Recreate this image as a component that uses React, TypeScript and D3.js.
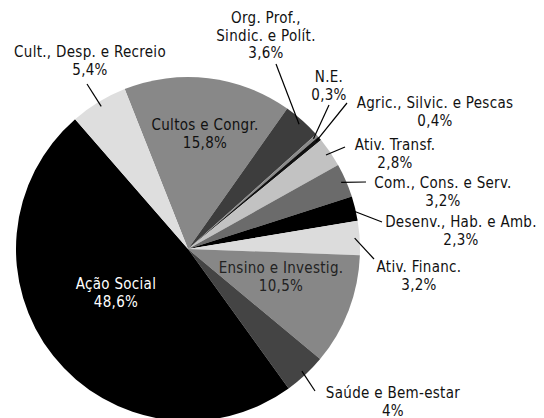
import React from 'react';
import * as d3 from 'd3';

// categories in drawing order (clockwise)
const categories = [
  'Cultos e Congr.',
  'Org. Prof., Sindic. e Polít.',
  'N.E.',
  'Agric., Silvic. e Pescas',
  'Ativ. Transf.',
  'Com., Cons. e Serv.',
  'Desenv., Hab. e Amb.',
  'Ativ. Financ.',
  'Ensino e Investig.',
  'Saúde e Bem-estar',
  'Ação Social',
  'Cult., Desp. e Recreio',
];
const values = [15.8, 3.6, 0.3, 0.4, 2.8, 3.2, 2.3, 3.2, 10.5, 4, 48.6, 5.4];
const valueLabels = ['15,8%', '3,6%', '0,3%', '0,4%', '2,8%', '3,2%', '2,3%', '3,2%', '10,5%', '4%', '48,6%', '5,4%'];
// label lines (text split for display)
const labelLines = [
  ['Cultos e Congr.'],
  ['Org. Prof.,', 'Sindic. e Polít.'],
  ['N.E.'],
  ['Agric., Silvic. e Pescas'],
  ['Ativ. Transf.'],
  ['Com., Cons. e Serv.'],
  ['Desenv., Hab. e Amb.'],
  ['Ativ. Financ.'],
  ['Ensino e Investig.'],
  ['Saúde e Bem-estar'],
  ['Ação Social'],
  ['Cult., Desp. e Recreio'],
];
const colors = ['#888888', '#3d3d3d', '#8a8a8a', '#111111', '#c2c2c2', '#6b6b6b', '#000000', '#dcdcdc', '#878787', '#444444', '#000000', '#dedede'];

// layout: label anchor (text centre of first line) and leader line end, no line = inside label
const layout: { x: number; y: number; lx?: number; ly?: number; fill: string }[] = [
  { x: 205, y: 130, fill: '#111' },
  { x: 266, y: 23, lx: 276, ly: 64, fill: '#111' },
  { x: 329, y: 82, lx: 329, ly: 105, fill: '#111' },
  { x: 435, y: 108, lx: 347, ly: 103, fill: '#111' },
  { x: 395, y: 150, lx: 345, ly: 147, fill: '#111' },
  { x: 443, y: 188, lx: 366, ly: 182, fill: '#111' },
  { x: 461, y: 227, lx: 382, ly: 222, fill: '#111' },
  { x: 419, y: 272, lx: 374, ly: 259, fill: '#111' },
  { x: 281, y: 273, fill: '#222' },
  { x: 393, y: 398, lx: 315, ly: 391, fill: '#111' },
  { x: 116, y: 289, fill: '#fff' },
  { x: 90, y: 57, lx: 87, ly: 84, fill: '#111' },
];

const W = 544;
const H = 418;
const cx = 188;
const cy = 249;
const R = 172;

export default function App() {
  const startAngle = (-21.6 * Math.PI) / 180;
  const pie = d3
    .pie<number>()
    .sort(null)
    .startAngle(startAngle)
    .endAngle(startAngle + 2 * Math.PI);
  const arcs = pie(values);
  const arc = d3.arc<d3.PieArcDatum<number>>().innerRadius(0).outerRadius(R);
  const fontFamily = "'DejaVu Sans Condensed', sans-serif";

  return (
    <svg width={W} height={H} style={{ position: 'absolute', left: 0, top: 0 }}>
      <rect width={W} height={H} fill="#fff" />
      <g transform={`translate(${cx},${cy})`}>
        {arcs.map((a, i) => (
          <path key={categories[i]} d={arc(a) || ''} fill={colors[i]} />
        ))}
      </g>
      {arcs.map((a, i) => {
        const l = layout[i];
        if (l.lx === undefined || l.ly === undefined) return null;
        const mid = (a.startAngle + a.endAngle) / 2;
        const r0 = R - 5;
        const sx = cx + r0 * Math.sin(mid);
        const sy = cy - r0 * Math.cos(mid);
        return <line key={'l' + i} x1={sx} y1={sy} x2={l.lx} y2={l.ly} stroke="#000" strokeWidth={1.2} />;
      })}
      {arcs.map((a, i) => {
        const l = layout[i];
        const lines = [...labelLines[i], valueLabels[i]];
        return (
          <text
            key={'t' + i}
            x={l.x}
            y={l.y}
            textAnchor="middle"
            fontFamily={fontFamily}
            fontSize={15}
            letterSpacing={0.3}
            fill={l.fill}
          >
            {lines.map((s, j) => (
              <tspan key={j} x={l.x} dy={j === 0 ? 0 : 17.5}>
                {s}
              </tspan>
            ))}
          </text>
        );
      })}
    </svg>
  );
}
